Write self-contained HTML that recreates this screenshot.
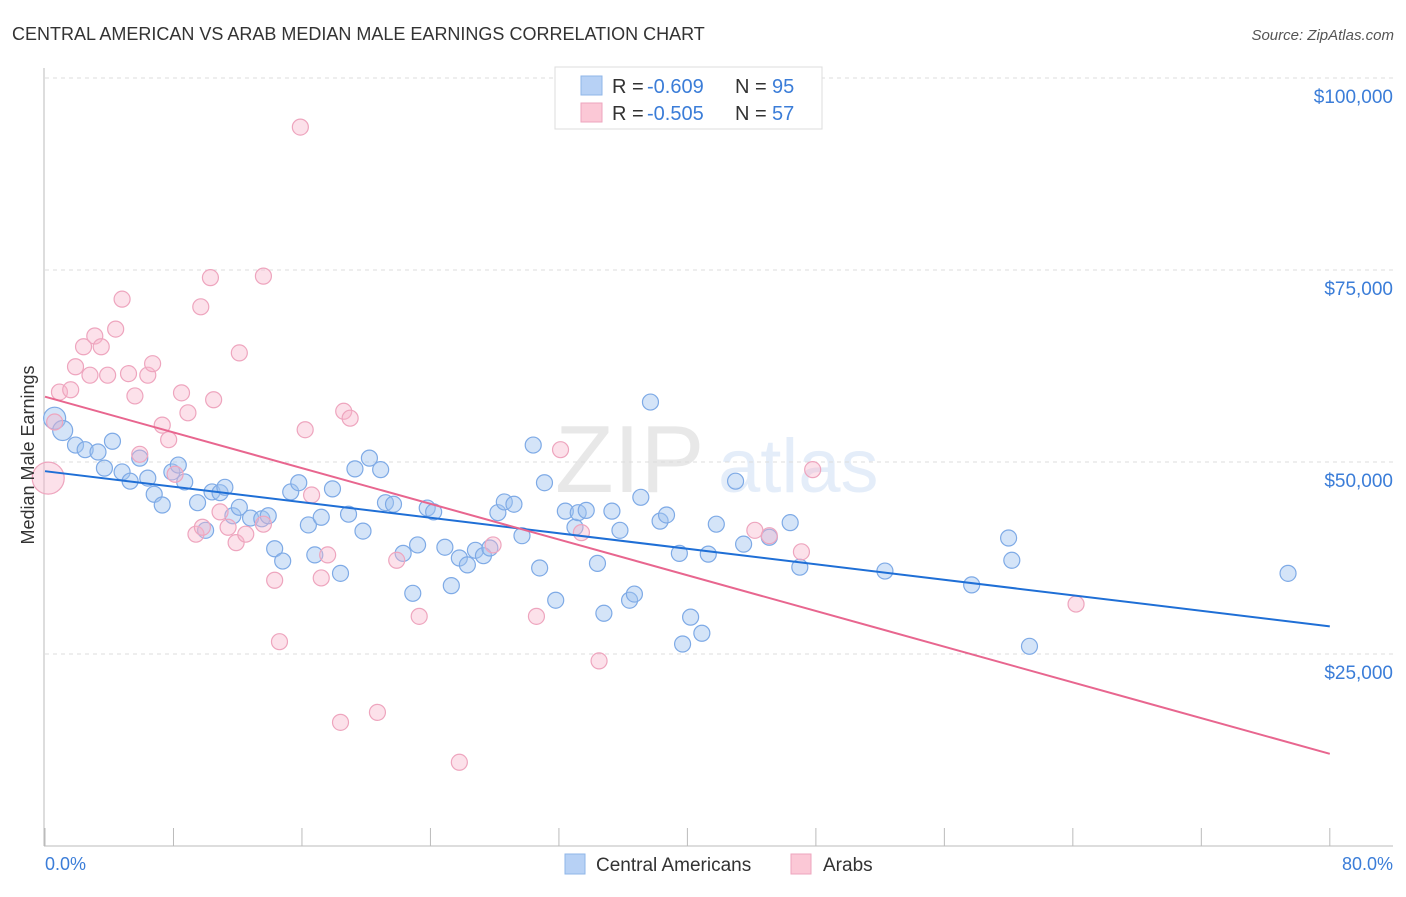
<!DOCTYPE html>
<html><head><meta charset="utf-8"><style>
body{margin:0;background:#fff;font-family:"Liberation Sans",sans-serif;}
svg text{font-family:"Liberation Sans",sans-serif;}
</style></head><body>
<svg id="chart" width="1406" height="892" viewBox="0 0 1406 892">
<text x="12" y="40" font-size="18" fill="#333">CENTRAL AMERICAN VS ARAB MEDIAN MALE EARNINGS CORRELATION CHART</text>
<text x="1394" y="40" font-size="15" fill="#555" text-anchor="end" font-style="italic">Source: ZipAtlas.com</text>
<g opacity="0.13">
<text x="555" y="492" font-size="96" font-family="Liberation Serif" fill="#555">ZIP</text>
<text x="718" y="492" font-size="76" fill="#3b7dd8">atlas</text>
</g>
<g id="grid"></g><g id="axes"></g><g id="pts"></g><g id="trend"></g>
<text transform="translate(34,455) rotate(-90)" font-size="18" fill="#333" text-anchor="middle">Median Male Earnings</text>
<text x="45" y="870" font-size="18" fill="#3b7dd8">0.0%</text>
<text x="1393" y="870" font-size="18" fill="#3b7dd8" text-anchor="end">80.0%</text>
<g>
<rect x="555" y="67" width="267" height="62" fill="#fff" stroke="#ddd"/>
<rect x="581" y="76" width="21" height="19" fill="#b7d1f5" stroke="#8fb6e8"/>
<rect x="581" y="103" width="21" height="19" fill="#fbc8d6" stroke="#eea5be"/>
<text x="612" y="93" font-size="20" fill="#333">R =</text>
<text x="647" y="93" font-size="20" fill="#3b7dd8">-0.609</text>
<text x="735" y="93" font-size="20" fill="#333">N =</text>
<text x="772" y="93" font-size="20" fill="#3b7dd8">95</text>
<text x="612" y="120" font-size="20" fill="#333">R =</text>
<text x="647" y="120" font-size="20" fill="#3b7dd8">-0.505</text>
<text x="735" y="120" font-size="20" fill="#333">N =</text>
<text x="772" y="120" font-size="20" fill="#3b7dd8">57</text>
</g>
<g>
<rect x="565" y="854" width="20" height="20" fill="#b7d1f5" stroke="#8fb6e8"/>
<text x="596" y="871" font-size="19" fill="#333">Central Americans</text>
<rect x="791" y="854" width="20" height="20" fill="#fbc8d6" stroke="#eea5be"/>
<text x="823" y="871" font-size="19" fill="#333">Arabs</text>
</g>
</svg>
<script>
const yTicks=[25000,50000,75000,100000];
const yTickLabels=["$25,000","$50,000","$75,000","$100,000"];
const xTicks=[0,8,16,24,32,40,48,56,64,72,80];
const blueX=[0.6,1.1,1.9,2.5,3.3,3.7,4.2,4.8,5.3,5.9,6.4,6.8,7.3,7.9,8.3,8.7,9.5,10.0,10.4,10.9,11.2,11.7,12.1,12.8,13.5,13.9,14.3,14.8,15.3,15.8,16.4,16.8,17.2,17.9,18.4,18.9,19.3,19.8,20.2,20.9,21.2,21.7,22.3,22.9,23.2,23.8,24.2,24.9,25.3,25.8,26.3,26.8,27.3,27.7,28.2,28.6,29.2,29.7,30.4,30.8,31.1,31.8,32.4,33.0,33.2,33.7,34.4,34.8,35.3,35.8,36.4,36.7,37.1,37.7,38.3,38.7,39.5,39.7,40.2,40.9,41.3,41.8,43.0,43.5,45.1,46.4,47.0,52.3,57.7,60.0,60.2,61.3,77.4];
const blueY=[55.7,54.1,52.2,51.6,51.3,49.2,52.7,48.7,47.5,50.5,47.9,45.8,44.4,48.7,49.6,47.4,44.7,41.1,46.1,46.0,46.7,43.0,44.1,42.7,42.6,43.0,38.7,37.1,46.1,47.3,41.8,37.9,42.8,46.5,35.5,43.2,49.1,41.0,50.5,49.0,44.7,44.5,38.1,32.9,39.2,44.0,43.5,38.9,33.9,37.5,36.6,38.5,37.8,38.8,43.4,44.8,44.5,40.4,52.2,36.2,47.3,32.0,43.6,41.5,43.4,43.7,36.8,30.3,43.6,41.1,32.0,32.8,45.4,57.8,42.3,43.1,38.1,26.3,29.8,27.7,38.0,41.9,47.5,39.3,40.2,42.1,36.3,35.8,34.0,40.1,37.2,26.0,35.5];
const pinkX=[0.2,0.6,0.9,1.6,1.9,2.4,2.8,3.1,3.5,3.9,4.4,4.8,5.2,5.6,5.9,6.4,6.7,7.3,7.7,8.1,8.5,8.9,9.4,9.7,9.8,10.3,10.5,10.9,11.4,11.9,12.1,12.5,13.6,13.6,14.3,14.6,15.9,16.2,16.6,17.2,17.6,18.4,18.6,19.0,20.7,21.9,23.3,25.8,27.9,30.6,32.1,33.4,34.5,44.2,45.1,47.1,47.8,64.2];
const pinkY=[47.9,55.2,59.1,59.4,62.4,65.0,61.3,66.4,65.0,61.3,67.3,71.2,61.5,58.6,51.0,61.3,62.8,54.8,52.9,48.4,59.0,56.4,40.6,70.2,41.5,74.0,58.1,43.5,41.5,39.5,64.2,40.6,74.2,41.9,34.6,26.6,93.6,54.2,45.7,34.9,37.9,16.1,56.6,55.7,17.4,37.2,29.9,10.9,39.2,29.9,51.6,40.8,24.1,41.1,40.4,38.3,49.0,31.5];
const blueTrend=[[0,48.8],[80,28.6]];
const pinkTrend=[[0,58.5],[80,12.0]];
const NS="http://www.w3.org/2000/svg";
const xs=v=>45+v*16.06;
const ys=v=>846-v/130.2;
const ysK=v=>ys(v*1000);
function mk(t,a,p){const e=document.createElementNS(NS,t);for(const k in a)e.setAttribute(k,a[k]);p.appendChild(e);return e;}
const grid=document.getElementById('grid'),axes=document.getElementById('axes'),pts=document.getElementById('pts'),tr=document.getElementById('trend');
yTicks.forEach((v,i)=>{
 const l=mk('line',{x1:45,x2:1393,y1:ys(v),y2:ys(v),stroke:'#ddd','stroke-dasharray':'4,4'},grid);
 
 
 const t=mk('text',{x:1393,y:ys(v)+25,'font-size':19,fill:'#3b7dd8','text-anchor':'end'},axes);
 t.textContent=yTickLabels[i];
 
 
});
const ax=mk('line',{x1:44,x2:44,y1:68,y2:846,stroke:'#bbb'},axes);


const bx=mk('line',{x1:44,x2:1393,y1:846,y2:846,stroke:'#bbb'},axes);


xTicks.forEach(v=>{
 const l=mk('line',{x1:xs(v),x2:xs(v),y1:828,y2:846,stroke:'#bbb'},axes);
 
 
});
blueX.forEach((x,i)=>{
 const c=mk('circle',{cx:xs(x),cy:ysK(blueY[i]),r:i==0?11:(i==1?10:8),fill:'rgba(160,196,240,0.45)',stroke:'#7eaae6','stroke-width':1.2},pts);
 
 
});
pinkX.forEach((x,i)=>{
 const c=mk('circle',{cx:xs(x),cy:ysK(pinkY[i]),r:i==0?16:8,fill:'rgba(247,180,202,0.4)',stroke:'#eea5be','stroke-width':1.2},pts);
 
 
});
const lb=mk('line',{x1:xs(blueTrend[0][0]),y1:ysK(blueTrend[0][1]),x2:xs(blueTrend[1][0]),y2:ysK(blueTrend[1][1]),stroke:'#1f6fd6','stroke-width':2},tr);


const lp=mk('line',{x1:xs(pinkTrend[0][0]),y1:ysK(pinkTrend[0][1]),x2:xs(pinkTrend[1][0]),y2:ysK(pinkTrend[1][1]),stroke:'#e8668f','stroke-width':2},tr);


</script>
</body></html>
